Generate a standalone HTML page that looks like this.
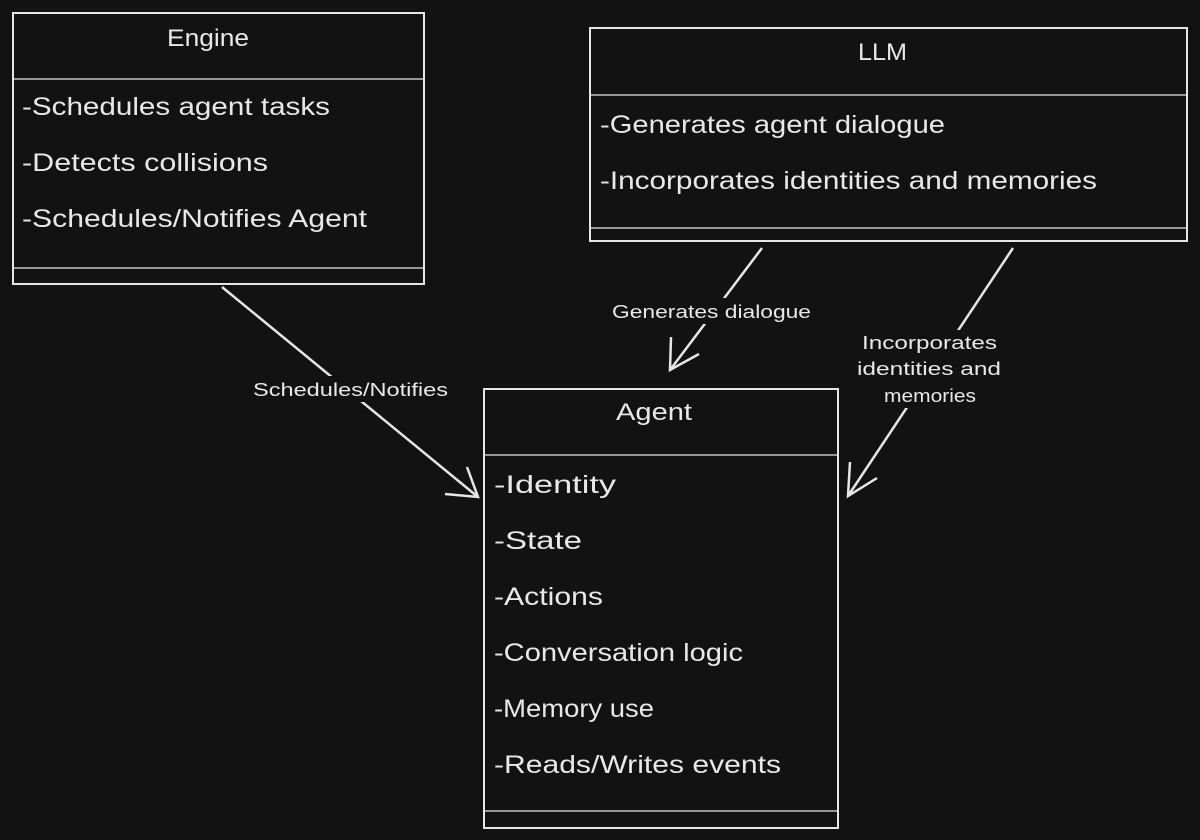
<!DOCTYPE html>
<html><head><meta charset="utf-8"><style>
html,body{margin:0;padding:0;background:#121212;}
svg{display:block}
text{font-family:"Liberation Sans",sans-serif;fill:#e8e8e8;}
</style></head><body>
<svg width="1200" height="840" viewBox="0 0 1200 840" xmlns="http://www.w3.org/2000/svg">
<rect width="1200" height="840" fill="#121212"/>
<g stroke="#e6e6e6" stroke-width="2" fill="none">
<rect x="13" y="13" width="411" height="271"/>
<line x1="13" y1="79" x2="424" y2="79" stroke-width="1.2"/>
<line x1="13" y1="268" x2="424" y2="268" stroke-width="1.2"/>
<rect x="590" y="28" width="597" height="213"/>
<line x1="590" y1="95" x2="1187" y2="95" stroke-width="1.2"/>
<line x1="590" y1="228" x2="1187" y2="228" stroke-width="1.2"/>
<rect x="484" y="389" width="354" height="439"/>
<line x1="484" y1="455" x2="838" y2="455" stroke-width="1.2"/>
<line x1="484" y1="811" x2="838" y2="811" stroke-width="1.2"/>
<line x1="222" y1="287" x2="478" y2="497" stroke-width="2.5"/>
<polyline points="445,494 478,497 467,467" stroke-width="2.5"/>
<line x1="762" y1="248" x2="670" y2="370" stroke-width="2.5"/>
<polyline points="671,337 670,370 699,354" stroke-width="2.5"/>
<line x1="1013" y1="248" x2="848" y2="496" stroke-width="2.5"/>
<polyline points="850,462 848,496 877,478" stroke-width="2.5"/>
</g>
<rect x="250" y="376" width="200" height="26" fill="#121212"/>
<rect x="608" y="298" width="206" height="26" fill="#121212"/>
<rect x="855" y="330" width="150" height="78" fill="#121212"/>
<g font-size="18" lengthAdjust="spacingAndGlyphs">
<text x="253" y="396" textLength="195" lengthAdjust="spacingAndGlyphs">Schedules/Notifies</text>
<text x="612" y="318" textLength="199" lengthAdjust="spacingAndGlyphs">Generates dialogue</text>
<text x="862" y="349" textLength="135" lengthAdjust="spacingAndGlyphs">Incorporates</text>
<text x="857" y="375" textLength="144" lengthAdjust="spacingAndGlyphs">identities and</text>
<text x="884" y="402" textLength="92" lengthAdjust="spacingAndGlyphs">memories</text>
</g>
<g font-size="24">
<text x="167" y="46" textLength="82" lengthAdjust="spacingAndGlyphs">Engine</text>
<text x="858" y="60" textLength="49" lengthAdjust="spacingAndGlyphs">LLM</text>
<text x="616" y="420" textLength="76" lengthAdjust="spacingAndGlyphs">Agent</text>
</g>
<g font-size="25">
<text x="22" y="115" textLength="308" lengthAdjust="spacingAndGlyphs">-Schedules agent tasks</text>
<text x="22" y="171" textLength="246" lengthAdjust="spacingAndGlyphs">-Detects collisions</text>
<text x="22" y="227" textLength="345" lengthAdjust="spacingAndGlyphs">-Schedules/Notifies Agent</text>
<text x="600" y="133" textLength="345" lengthAdjust="spacingAndGlyphs">-Generates agent dialogue</text>
<text x="600" y="189" textLength="497" lengthAdjust="spacingAndGlyphs">-Incorporates identities and memories</text>
<text x="494" y="493" textLength="122" lengthAdjust="spacingAndGlyphs">-Identity</text>
<text x="494" y="549" textLength="88" lengthAdjust="spacingAndGlyphs">-State</text>
<text x="494" y="605" textLength="109" lengthAdjust="spacingAndGlyphs">-Actions</text>
<text x="494" y="661" textLength="249" lengthAdjust="spacingAndGlyphs">-Conversation logic</text>
<text x="494" y="717" textLength="160" lengthAdjust="spacingAndGlyphs">-Memory use</text>
<text x="494" y="773" textLength="287" lengthAdjust="spacingAndGlyphs">-Reads/Writes events</text>
</g>
</svg>
</body></html>
